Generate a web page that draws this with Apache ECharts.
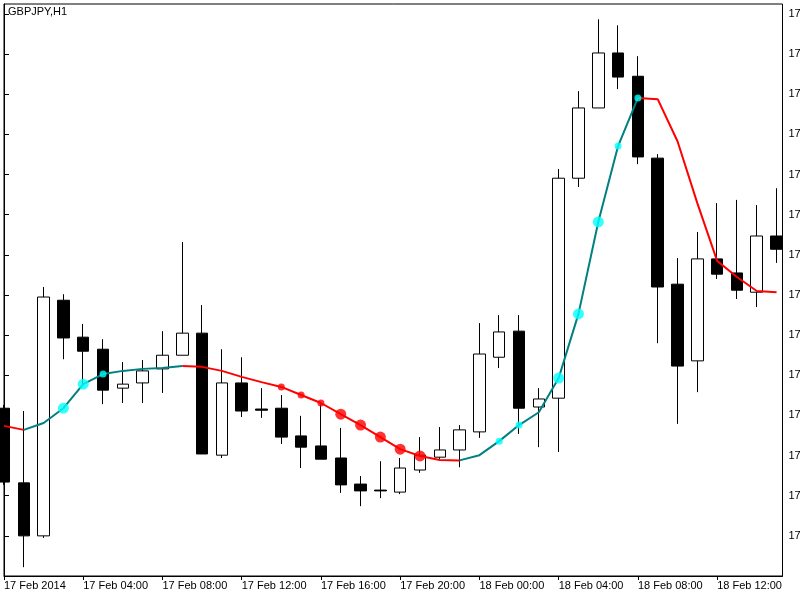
<!DOCTYPE html>
<html>
<head>
<meta charset="utf-8">
<script src="https://cdn.jsdelivr.net/npm/echarts@6/dist/echarts.min.js"></script>
<style>
  html, body { margin: 0; padding: 0; background: #fff; }
  #main { width: 800px; height: 600px; }
</style>
</head>
<body>
<div id="main"></div>
<script>
// hourly bars, 17 Feb 00:00 .. 18 Feb 15:00
const times = [
  '17 Feb 00:00', '17 Feb 01:00', '17 Feb 02:00', '17 Feb 03:00', '17 Feb 04:00', '17 Feb 05:00',
  '17 Feb 06:00', '17 Feb 07:00', '17 Feb 08:00', '17 Feb 09:00', '17 Feb 10:00', '17 Feb 11:00',
  '17 Feb 12:00', '17 Feb 13:00', '17 Feb 14:00', '17 Feb 15:00', '17 Feb 16:00', '17 Feb 17:00',
  '17 Feb 18:00', '17 Feb 19:00', '17 Feb 20:00', '17 Feb 21:00', '17 Feb 22:00', '17 Feb 23:00',
  '18 Feb 00:00', '18 Feb 01:00', '18 Feb 02:00', '18 Feb 03:00', '18 Feb 04:00', '18 Feb 05:00',
  '18 Feb 06:00', '18 Feb 07:00', '18 Feb 08:00', '18 Feb 09:00', '18 Feb 10:00', '18 Feb 11:00',
  '18 Feb 12:00', '18 Feb 13:00', '18 Feb 14:00', '18 Feb 15:00'
]

const opens = [
  170.518, 170.332, 170.200, 170.787, 170.695, 170.665, 170.568, 170.581, 170.616, 170.650,
  170.705, 170.401, 170.581, 170.516, 170.518, 170.449, 170.424, 170.394, 170.329, 170.314,
  170.309, 170.364, 170.396, 170.414, 170.459, 170.645, 170.710, 170.521, 170.543, 171.091,
  171.266, 171.403, 171.345, 171.141, 170.827, 170.636, 170.890, 170.855, 170.807, 170.947
]
const closes = [
  170.334, 170.200, 170.795, 170.693, 170.660, 170.563, 170.578, 170.611, 170.650, 170.705,
  170.404, 170.581, 170.511, 170.513, 170.446, 170.421, 170.391, 170.327, 170.312, 170.312,
  170.369, 170.401, 170.414, 170.464, 170.653, 170.708, 170.518, 170.541, 171.091, 171.266,
  171.403, 171.343, 171.144, 170.820, 170.623, 170.890, 170.852, 170.812, 170.947, 170.914
]
const lows = [
  170.327, 170.122, 170.195, 170.640, 170.576, 170.528, 170.531, 170.531, 170.556, 170.650,
  170.404, 170.394, 170.496, 170.494, 170.429, 170.369, 170.391, 170.307, 170.274, 170.294,
  170.304, 170.357, 170.389, 170.371, 170.444, 170.618, 170.454, 170.421, 170.409, 171.069,
  171.266, 171.313, 171.126, 170.680, 170.479, 170.558, 170.840, 170.790, 170.770, 170.880
]
const highs = [
  170.526, 170.511, 170.820, 170.802, 170.728, 170.690, 170.633, 170.638, 170.710, 170.932,
  170.775, 170.665, 170.645, 170.568, 170.551, 170.499, 170.531, 170.469, 170.349, 170.386,
  170.394, 170.446, 170.471, 170.476, 170.730, 170.750, 170.750, 170.568, 171.114, 171.308,
  171.487, 171.472, 171.395, 171.151, 170.892, 170.957, 171.029, 171.037, 171.024, 171.066
]

// moving average and its signal dots (0 = no dot)
const ma = [
  170.474, 170.464, 170.481, 170.518, 170.578, 170.603, 170.611, 170.616, 170.618, 170.623,
  170.621, 170.611, 170.596, 170.583, 170.571, 170.551, 170.531, 170.503, 170.476, 170.446,
  170.416, 170.399, 170.389, 170.388, 170.401, 170.436, 170.476, 170.508, 170.593, 170.753,
  170.982, 171.171, 171.291, 171.288, 171.183, 171.029, 170.885, 170.845, 170.810, 170.807
]
const dotSize = [
  0, 0, 0, 11, 11, 7, 0, 0, 0, 0,
  0, 0, 0, 0, 7, 7, 7, 11, 11, 11,
  11, 11, 0, 0, 0, 7, 7, 0, 11, 11,
  11, 7, 7, 0, 0, 0, 0, 0, 0, 0
]

const xTicks = [0, 4, 8, 12, 16, 20, 24, 28, 32, 36]
const xTickLabels = ['17 Feb 2014', '17 Feb 04:00', '17 Feb 08:00', '17 Feb 12:00', '17 Feb 16:00',
  '17 Feb 20:00', '18 Feb 00:00', '18 Feb 04:00', '18 Feb 08:00', '18 Feb 12:00']
const yTicks = [170.2, 170.3, 170.4, 170.5, 170.6, 170.7, 170.8, 170.9, 171.0, 171.1, 171.2, 171.3, 171.4, 171.5]

const FONT = 'Liberation Sans'
const n = opens.length

const candles = opens.map((o, i) => [i, o, closes[i], lows[i], highs[i]])
// segment (i-1 -> i) gets the colour of bar i
const rising = ma.map((v, i) => i > 0 && v >= ma[i - 1])
const upLine = ma.map((v, i) => (rising[i] || (i + 1 < n && rising[i + 1])) ? [i, v] : [i, '-'])
const downLine = ma.map((v, i) => ((i > 0 && !rising[i]) || (i + 1 < n && !rising[i + 1])) ? [i, v] : [i, '-'])
const dots = []
dotSize.forEach((s, i) => {
  if (s) dots.push({ value: [i, ma[i]], symbolSize: s, itemStyle: { color: rising[i] ? '#00ffff' : '#ff0000' } })
})

const myChart = echarts.init(document.getElementById('main'))

myChart.setOption({
  animation: false,
  backgroundColor: '#fff',
  title: {
    text: 'GBPJPY,H1',
    left: 8,
    top: 6.5,
    padding: 0,
    textStyle: { fontFamily: FONT, fontSize: 11, fontWeight: 'normal', color: '#000' }
  },
  grid: {
    left: 4, right: 17.5, top: 4, bottom: 24,
    containLabel: false,
    outerBoundsMode: 'none',
    show: true, borderColor: '#000', borderWidth: 1, backgroundColor: '#fff'
  },
  xAxis: {
    type: 'value',
    min: 0,
    max: 39.3,
    axisLine: { show: true, onZero: false, lineStyle: { color: '#000', width: 1 } },
    axisTick: { show: true, length: 4, customValues: xTicks, lineStyle: { color: '#000' } },
    axisLabel: {
      customValues: xTicks,
      align: 'left',
      margin: 4,
      hideOverlap: false,
      fontFamily: FONT, fontSize: 11, color: '#000',
      formatter: v => xTickLabels[xTicks.indexOf(v)] || ''
    },
    splitLine: { show: false }
  },
  yAxis: {
    type: 'value',
    position: 'right',
    min: 170.1,
    max: 171.525,
    axisLine: { show: true, lineStyle: { color: '#000', width: 1 } },
    axisTick: { show: true, inside: false, length: 5, customValues: yTicks, lineStyle: { color: '#000' } },
    axisLabel: {
      customValues: yTicks,
      margin: 6,
      fontFamily: FONT, fontSize: 11, color: '#000',
      formatter: v => v.toFixed(3)
    },
    splitLine: { show: false }
  },
  series: [
    {
      type: 'candlestick',
      data: candles,
      encode: { x: 0, y: [1, 2, 3, 4] },
      barWidth: 12,
      clip: true,
      z: 1,
      itemStyle: {
        color: '#fff', color0: '#000',
        borderColor: '#000', borderColor0: '#000', borderColorDoji: '#000',
        borderWidth: 1
      },
      emphasis: { disabled: true }
    },
    {
      type: 'line',
      data: upLine,
      symbol: 'none',
      z: 3,
      lineStyle: { color: '#008080', width: 2 },
      emphasis: { disabled: true }
    },
    {
      type: 'line',
      data: downLine,
      symbol: 'none',
      z: 3,
      lineStyle: { color: '#ff0000', width: 2 },
      emphasis: { disabled: true }
    },
    {
      type: 'scatter',
      data: dots,
      symbol: 'circle',
      z: 4,
      emphasis: { disabled: true }
    }
  ]
})
</script>
</body>
</html>
